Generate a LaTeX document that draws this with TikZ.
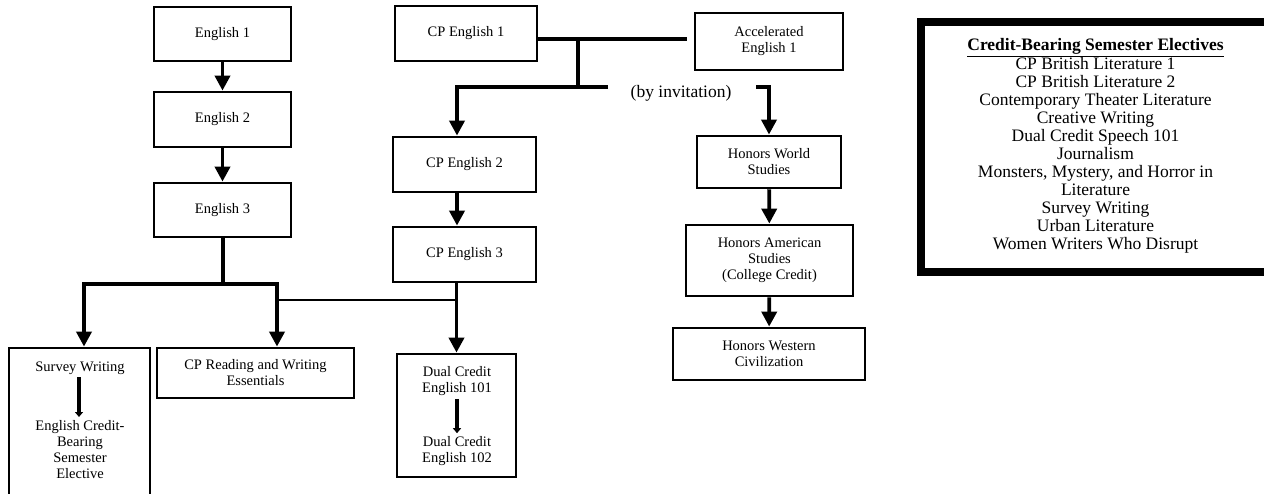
\documentclass[tikz,border=0pt]{standalone}
\usepackage{fontspec}
\setmainfont{Liberation Serif}
\usetikzlibrary{arrows.meta}
\newcommand{\boxfont}{\fontsize{14.5}{16}\selectfont}
\newcommand{\bigfont}{\fontsize{17.5}{18}\selectfont}
\tikzset{
  box/.style={draw, line width=2.8pt, inner sep=0pt, font=\boxfont, align=center},
  txt/.style={inner sep=0pt, font=\boxfont, align=center},
  conn/.style={line width=3.8pt, line join=miter},
  thinconn/.style={line width=2.6pt},
  arr/.style={conn, -{Triangle[width=15pt,length=15pt]}},
  smallarr/.style={line width=3.5pt, -{Triangle[width=8pt,length=5pt]}},
}
\begin{document}
\begin{tikzpicture}[x=1pt, y=-1pt]
\useasboundingbox (0,0) rectangle (1264,493);
% left column
\node[box, minimum width=137pt, minimum height=54pt] (e1) at (222.5,34) {English 1};
\node[box, minimum width=137pt, minimum height=55pt] (e2) at (222.5,119.5) {English 2};
\node[box, minimum width=137pt, minimum height=54pt] (e3) at (222.5,210) {English 3};
% CP column
\node[box, minimum width=142pt, minimum height=55pt] (cp1) at (466,33.5) {CP English 1};
\node[box, minimum width=143pt, minimum height=55pt] (cp2) at (464.5,164.5) {CP English 2};
\node[box, minimum width=143pt, minimum height=55pt] (cp3) at (464.5,254.5) {CP English 3};
% honors column
\node[box, minimum width=148pt, minimum height=57pt] (acc) at (769,41.5) {Accelerated\\English 1};
\node[box, minimum width=144pt, minimum height=52pt] (hws) at (769,162) {Honors World\\Studies};
\node[box, minimum width=167pt, minimum height=71pt] (has) at (769.5,260.5) {Honors American\\Studies\\(College Credit)};
\node[box, minimum width=192pt, minimum height=52pt] (hwc) at (769,354) {Honors Western\\Civilization};
% bottom row
\node[box, minimum width=141pt, minimum height=152pt] (survey) at (79.5,424) {};
\node[box, minimum width=197pt, minimum height=50pt] (cprwe) at (255.5,373) {CP Reading and Writing\\Essentials};
\node[box, minimum width=119pt, minimum height=123pt] (dual) at (456.5,415.5) {};
\node[txt] (survt) at (80,368) {Survey Writing};
\node[txt] (surve) at (80,450) {English Credit-\\Bearing\\Semester\\Elective};
\node[txt] (dual1) at (457,381) {Dual Credit\\English 101};
\node[txt] (dual2) at (457,451) {Dual Credit\\English 102};
\node[font=\bigfont, inner sep=0pt] (inv) at (681,93) {(by invitation)};
% electives box
\node[draw, line width=8pt, inner sep=0pt, minimum width=354pt, minimum height=250pt] (elbox) at (1098,147) {};
\node[font=\bigfont, align=center, inner sep=0pt] (eltext) at (1095.5,146) {\textbf{\underline{Credit-Bearing Semester Electives}}\\
CP British Literature 1\\
CP British Literature 2\\
Contemporary Theater Literature\\
Creative Writing\\
Dual Credit Speech 101\\
Journalism\\
Monsters, Mystery, and Horror in\\
Literature\\
Survey Writing\\
Urban Literature\\
Women Writers Who Disrupt};
% junction coordinates
\coordinate (j1) at (578,39);
\coordinate (j2) at (578,87);
\coordinate (j3) at (608,87);
\coordinate (j4) at (457,87);
\coordinate (j5) at (756,87);
\coordinate (j6) at (456,300);
\coordinate (j7) at (277,300);
\coordinate (j8) at (223,284);
\coordinate (jl) at (84,284);
\coordinate (jr) at (277,284);
\coordinate (sa1) at (79,377);
\coordinate (sa2) at (79,417);
% connectors
\draw[arr] (e1) -- (e2);
\draw[arr] (e2) -- (e3);
\draw[conn] (cp1.east |- j1) -- ([xshift=-7pt]acc.west |- j1);
\draw[conn] (j1) -- (j2);
\draw[arr] (j3) -- (j4) -- (j4 |- cp2.north);
\draw[arr] (j5) -- (hws.north |- j5) -- (hws.north);
\draw[arr] (cp2.south -| j4) -- (cp3.north -| j4);
\draw[arr] (cp3.south -| dual.north) -- (dual.north);
\draw[thinconn] (j6) -- (j7);
\draw[conn] (e3.south -| j8) -- (j8);
\draw[arr] (j8) -- (jl) -- (survey.north -| jl);
\draw[arr] (j8) -- (jr) -- (cprwe.north -| jr);
\draw[arr] (hws) -- (has);
\draw[arr] (has) -- (hwc);
\draw[smallarr] (sa1) -- (sa2);
\draw[smallarr] ([yshift=-3pt]dual1.south) -- ([yshift=3pt]dual2.north);
\end{tikzpicture}
\end{document}
